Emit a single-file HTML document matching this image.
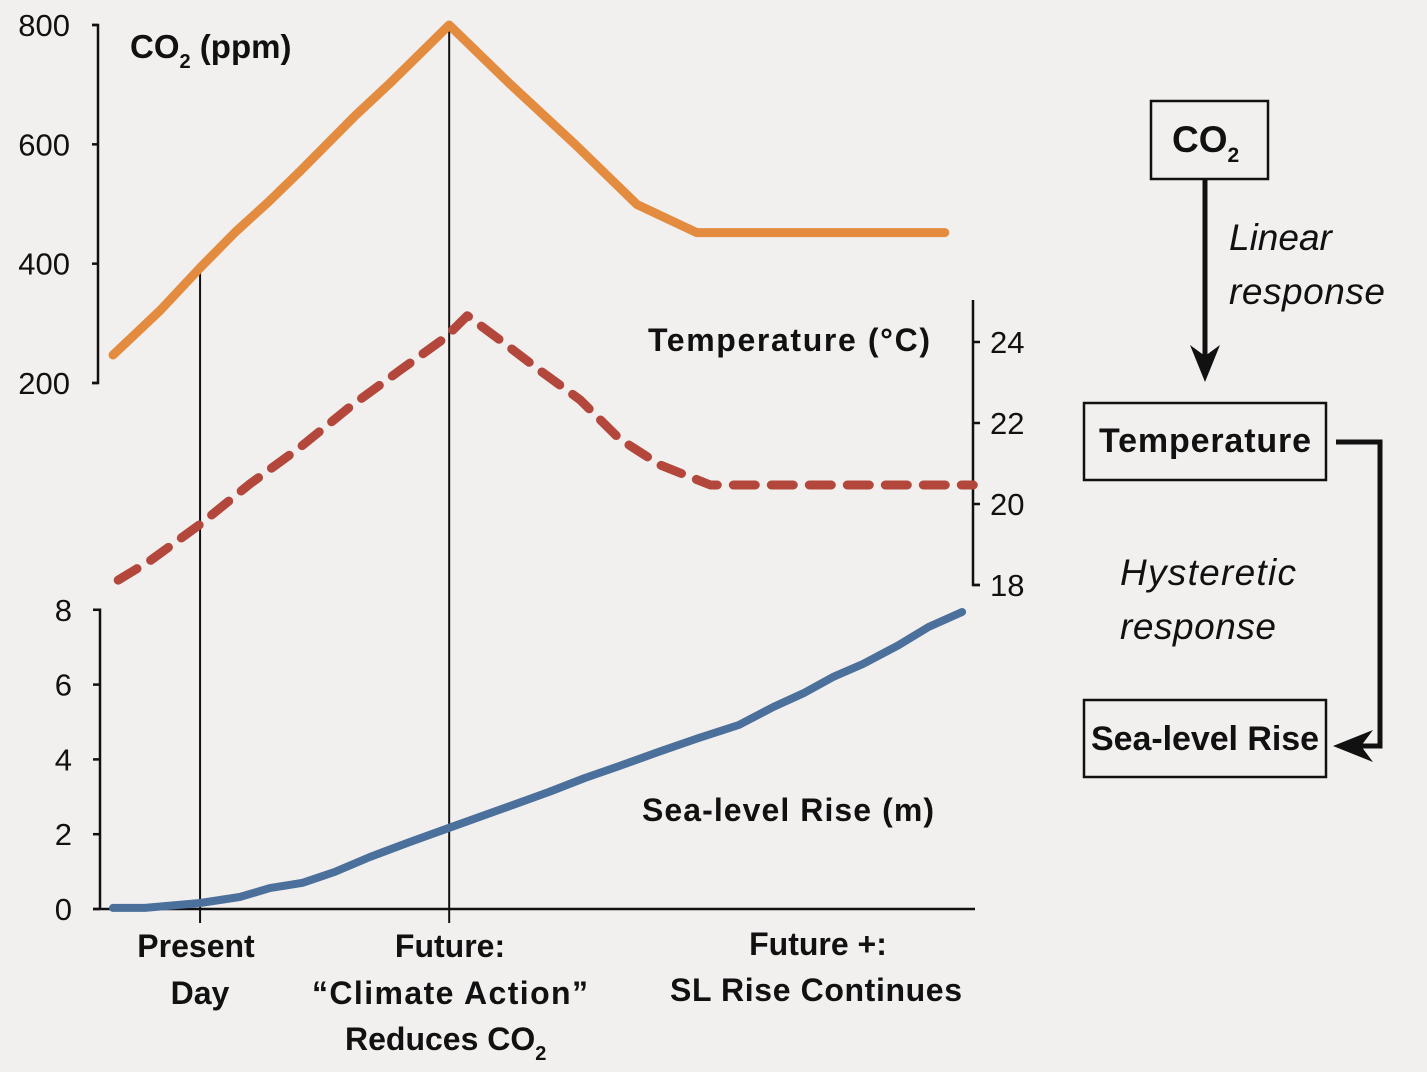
<!DOCTYPE html>
<html><head><meta charset="utf-8"><style>
html,body{margin:0;padding:0;background:#f2f0ee;}
svg{display:block;font-family:"Liberation Sans",sans-serif;}
.lab{font-weight:bold;fill:#111;}
.tick{font-size:31px;fill:#111;}
</style></head><body>
<svg id="chart" width="1427" height="1072" viewBox="0 0 1427 1072">
<rect width="1427" height="1072" fill="#f2f0ee"/>
<g id="axes"></g>
<g id="series"></g>
<g>
<text class="lab" x="130" y="58" font-size="33">CO<tspan font-size="20" dy="10">2</tspan><tspan dy="-10"> (ppm)</tspan></text>
<text class="lab" x="648" y="351" font-size="32" textLength="282">Temperature (°C)</text>
<text class="lab" x="642" y="821" font-size="32" textLength="292">Sea-level Rise (m)</text>
<text class="lab" x="196" y="957" font-size="32" text-anchor="middle">Present</text>
<text class="lab" x="200" y="1004" font-size="32" text-anchor="middle">Day</text>
<text class="lab" x="450" y="957" font-size="32" text-anchor="middle">Future:</text>
<text class="lab" x="450" y="1004" font-size="32" text-anchor="middle" textLength="276">“Climate Action”</text>
<text class="lab" x="345" y="1050" font-size="32">Reduces CO<tspan font-size="20" dy="10">2</tspan></text>
<text class="lab" x="818" y="955" font-size="32" text-anchor="middle">Future +:</text>
<text class="lab" x="816" y="1001" font-size="32" text-anchor="middle" textLength="292">SL Rise Continues</text>
</g>
<g>
<rect x="1151" y="101" width="117" height="78" fill="none" stroke="#111" stroke-width="2.5"/>
<text class="lab" x="1172" y="152" font-size="37">CO<tspan font-size="21" dy="10">2</tspan></text>
<line x1="1205" y1="179" x2="1205" y2="360" stroke="#111" stroke-width="5"/>
<polygon points="1190,345 1205,382 1220,345 1205,356" fill="#111"/>
<text x="1229" y="250" font-size="37" font-style="italic" fill="#111">Linear</text>
<text x="1229" y="304" font-size="37" font-style="italic" fill="#111" textLength="156">response</text>
<rect x="1084" y="403" width="242" height="77" fill="none" stroke="#111" stroke-width="2.5"/>
<text class="lab" x="1205" y="452" font-size="34" text-anchor="middle" textLength="212">Temperature</text>
<polyline points="1336,442 1380,442 1380,746 1350,746" fill="none" stroke="#111" stroke-width="5"/>
<polygon points="1333,746 1373,730 1361,746 1373,762" fill="#111"/>
<text x="1120" y="585" font-size="37" font-style="italic" fill="#111" textLength="176">Hysteretic</text>
<text x="1120" y="639" font-size="37" font-style="italic" fill="#111" textLength="156">response</text>
<rect x="1084" y="700" width="242" height="77" fill="none" stroke="#111" stroke-width="2.5"/>
<text class="lab" x="1205" y="750" font-size="34" text-anchor="middle" textLength="228">Sea-level Rise</text>
</g>
</svg>
<script>
const co2T=[0,5.5,10.1,14.2,18,21.7,28.1,32.1,39,46,53.6,60.8,67.7,96.5];
const co2V=[247,322,393,453,503,555,648,702,800,702,600,499,452,452];
const tempT=[0.6,4.3,10.1,15.9,21.7,27.5,33.3,38.5,41.1,44.9,49.5,54.2,58.8,63.5,69.3,99.8];
const tempV=[18.12,18.6,19.5,20.5,21.4,22.4,23.3,24.1,24.65,24.05,23.3,22.57,21.6,20.96,20.47,20.47];
const slT=[0,3.7,10.1,14.7,18.2,22,25.7,29.8,34.4,39,44.8,50.6,54.7,58.7,63.3,67.9,72.6,76.6,80.1,83.5,87,91.1,94.6,98.5];
const slV=[0.03,0.03,0.16,0.32,0.56,0.7,0.99,1.39,1.79,2.17,2.65,3.13,3.5,3.82,4.2,4.57,4.92,5.4,5.77,6.2,6.55,7.05,7.54,7.94];
const co2Ticks=[200,400,600,800];
const tempTicks=[18,20,22,24];
const slTicks=[0,2,4,6,8];
const markerT=[10.1,39];
const markerTop=[393,800];

const NS='http://www.w3.org/2000/svg';
const x=t=>113+t*8.62;
const yCO2=v=>383-(v-200)*(358/600);
const yT=v=>585-(v-18)*40.5;
const yS=v=>909-v*37.4;
function mk(tag,attrs,parent){const e=document.createElementNS(NS,tag);for(const k in attrs)e.setAttribute(k,attrs[k]);parent.appendChild(e);return e;}
const axes=document.getElementById('axes'),series=document.getElementById('series');
const st={stroke:'#111','stroke-width':2.5,fill:'none'};
let a=mk('polyline',Object.assign({points:`92,${yCO2(800)} 98,${yCO2(800)} 98,${yCO2(200)} 92,${yCO2(200)}`},st),axes);


co2Ticks.forEach(v=>{
 const l=mk('line',Object.assign({x1:92,x2:98,y1:yCO2(v),y2:yCO2(v)},st),axes);
 
 
 const t=mk('text',{x:70,y:yCO2(v)+11,'text-anchor':'end',class:'tick'},axes);t.textContent=v;
 
 
});
a=mk('polyline',Object.assign({points:`973,300 973,${yT(18)} 980,${yT(18)}`},st),axes);


tempTicks.forEach(v=>{
 const l=mk('line',Object.assign({x1:973,x2:980,y1:yT(v),y2:yT(v)},st),axes);
 
 
 const t=mk('text',{x:990,y:yT(v)+11,class:'tick'},axes);t.textContent=v;
 
 
});
a=mk('polyline',Object.assign({points:`93,${yS(8)} 100,${yS(8)} 100,${yS(0)}`},st),axes);


slTicks.forEach(v=>{
 const l=mk('line',Object.assign({x1:93,x2:100,y1:yS(v),y2:yS(v)},st),axes);
 
 
 const t=mk('text',{x:72,y:yS(v)+11,'text-anchor':'end',class:'tick'},axes);t.textContent=v;
 
 
});
a=mk('line',Object.assign({x1:93,x2:975,y1:yS(0),y2:yS(0)},st),axes);


markerT.forEach((t,i)=>{
 const l=mk('line',{x1:x(t),x2:x(t),y1:yCO2(markerTop[i]),y2:yS(0)+14,stroke:'#111','stroke-width':2},axes);
 
 
});
const pts=(T,V,f)=>T.map((t,i)=>x(t).toFixed(1)+','+f(V[i]).toFixed(1)).join(' ');
let p=mk('polyline',{points:pts(co2T,co2V,yCO2),fill:'none',stroke:'#e38b3f','stroke-width':9,'stroke-linecap':'round','stroke-linejoin':'round'},series);


p=mk('polyline',{points:pts(tempT,tempV,yT),fill:'none',stroke:'#b3473c','stroke-width':9,'stroke-dasharray':'22 16','stroke-linecap':'round','stroke-linejoin':'round'},series);


p=mk('polyline',{points:pts(slT,slV,yS),fill:'none',stroke:'#4b709c','stroke-width':8,'stroke-linecap':'round','stroke-linejoin':'round'},series);


</script>
</body></html>
